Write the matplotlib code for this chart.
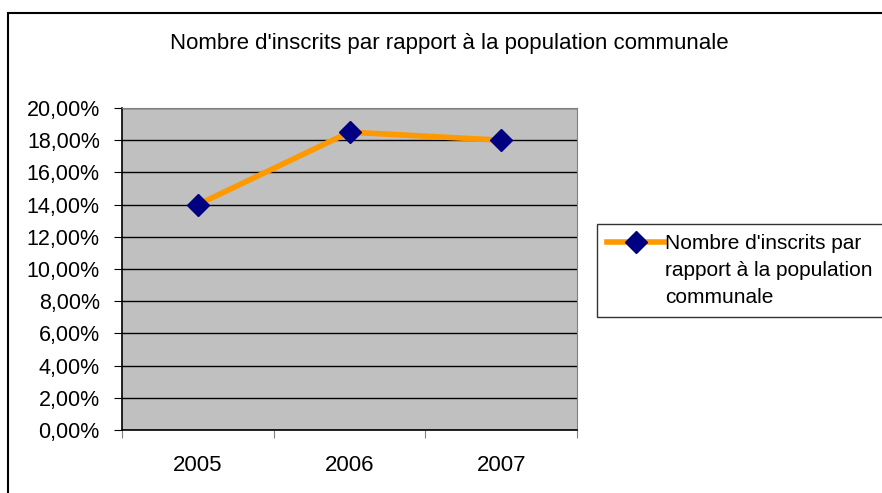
import matplotlib.pyplot as plt
from matplotlib.lines import Line2D
from matplotlib.patches import Rectangle
from matplotlib.ticker import FuncFormatter, MultipleLocator

years = ['2005', '2006', '2007']
ratio = [0.140, 0.185, 0.180]
title = "Nombre d'inscrits par rapport à la population communale"
legend_lines = ["Nombre d'inscrits par", "rapport à la population", "communale"]

plt.rcParams['font.family'] = ['Liberation Sans', 'DejaVu Sans']

fig = plt.figure(figsize=(8.82, 4.93), dpi=100)
W, H = 882, 493

# outer chart frame (cut at right/bottom like the screenshot)
fig.patches.append(Rectangle((8 / W, -0.05), 1.0, 1 - 13 / H + 0.05,
                             transform=fig.transFigure, fill=False,
                             edgecolor='black', linewidth=1.5, clip_on=False))

ax = fig.add_axes([122 / W, 1 - 430 / H, (577 - 122) / W, (430 - 108) / H])
ax.set_facecolor('#c0c0c0')

x = range(len(years))
line, = ax.plot(x, ratio, color='#ff9900', linewidth=4, marker='D',
                markersize=11, markerfacecolor='#000080',
                markeredgecolor='#000080', zorder=3)

ax.set_xlim(-0.5, len(years) - 0.5)
ax.set_ylim(0, 0.20)
ax.yaxis.set_major_locator(MultipleLocator(0.02))
ax.yaxis.set_major_formatter(FuncFormatter(lambda v, p: f"{v * 100:.2f}%".replace('.', ',')))
ax.grid(axis='y', color='black', linewidth=1)
ax.set_axisbelow(True)

ax.set_xticks([-0.5, 0.5, 1.5, 2.5])
ax.set_xticklabels([])
ax.set_xticks(list(x), minor=True)
ax.set_xticklabels(years, minor=True)
ax.tick_params(axis='x', which='minor', length=0, pad=18, labelsize=16)
ax.tick_params(axis='x', which='major', length=6, direction='out', color='#808080')
ax.tick_params(axis='y', length=6, direction='out', labelsize=15.5, pad=10)

for s in ['top', 'right']:
    ax.spines[s].set_color('#808080')
for s in ['left', 'bottom']:
    ax.spines[s].set_color('black')
    ax.spines[s].set_linewidth(1.2)

fig.text(449 / W, 1 - 43 / H, title, ha='center', va='center', fontsize=16)

blank = Line2D([], [], linestyle='none')
leg = fig.legend([line, blank, blank], legend_lines, loc='upper left',
                 bbox_to_anchor=(597 / W, 1 - 224 / H), fontsize=15,
                 frameon=True, fancybox=False, borderpad=0.5,
                 handlelength=2.7, handletextpad=0.05, labelspacing=0.37,
                 borderaxespad=0)
leg.get_frame().set_edgecolor('black')
leg.get_frame().set_linewidth(1)

fig.savefig('out.png', dpi=100)
